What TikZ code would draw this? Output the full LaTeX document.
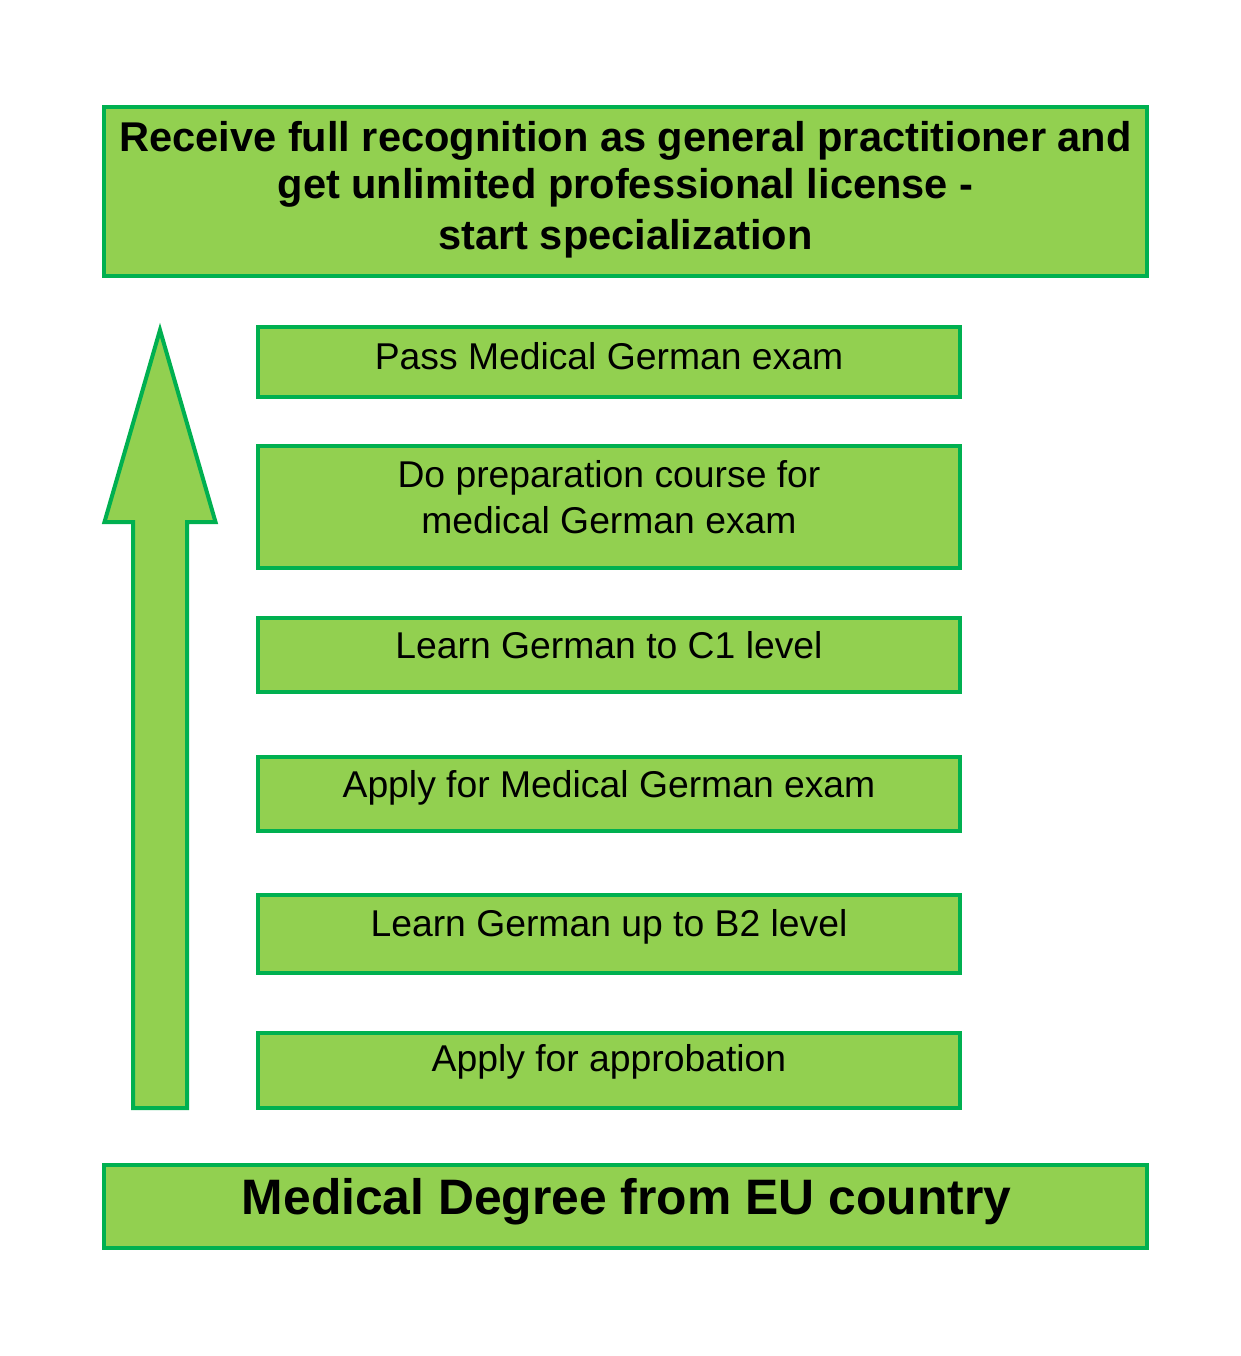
\documentclass[tikz,border=0pt]{standalone}
\usepackage{fontspec}
\setmainfont{Liberation Sans}
\definecolor{boxfill}{HTML}{92D050}
\definecolor{boxline}{HTML}{00B050}
\begin{document}
\begin{tikzpicture}[x=1pt,y=-1pt,
  box/.style={draw=boxline, fill=boxfill, line width=4pt, rectangle, inner sep=0pt, outer sep=0pt},
  stepbox/.style={box, minimum width=702pt},
  steptext/.style={anchor=base, align=center, inner sep=0pt, font=\fontsize{37.3}{46}\selectfont},
  bigtext/.style={anchor=base, align=center, inner sep=0pt, font=\fontsize{41.6}{46.5}\selectfont\bfseries},
  basetext/.style={anchor=base, inner sep=0pt, font=\fontsize{49.8}{60}\selectfont\bfseries}]
\useasboundingbox (0,0) rectangle (1240,1356);
\fill[white] (0,0) rectangle (1240,1356);
% top box
\node[box, minimum width=1043pt, minimum height=169pt] (top) at (625.5,191.5) {};
\node[bigtext] (toptext) at (625.5,250) {Receive full recognition as general practitioner and\\get unlimited professional license -\\[5pt]start specialization};
% steps
\node[stepbox, minimum height=70pt] (s6) at (609,362) {};
\node[steptext] (t6) at (s6.center |- 0,369) {Pass Medical German exam};
\node[stepbox, minimum height=122pt] (s5) at (609,507) {};
\node[steptext] (t5) at (s5.center |- 0,533) {Do preparation course for\\medical German exam};
\node[stepbox, minimum height=74pt] (s4) at (609,655) {};
\node[steptext] (t4) at (s4.center |- 0,658) {Learn German to C1 level};
\node[stepbox, minimum height=74pt] (s3) at (609,794) {};
\node[steptext] (t3) at (s3.center |- 0,797) {Apply for Medical German exam};
\node[stepbox, minimum height=78pt] (s2) at (609,934) {};
\node[steptext] (t2) at (s2.center |- 0,936) {Learn German up to B2 level};
\node[stepbox, minimum height=75pt] (s1) at (609,1070.5) {};
\node[steptext] (t1) at (s1.center |- 0,1071) {Apply for approbation};
% bottom box
\node[box, minimum width=1043pt, minimum height=83pt] (bottom) at (625.5,1206.5) {};
\node[basetext] (bottomtext) at (626.5,1214) {Medical Degree from EU country};
% big arrow
\coordinate (tip) at (160,330);
\draw[draw=boxline, fill=boxfill, line width=4pt, line join=miter]
  (tip) -- (215.5,522) -- (187,522) -- (187,1108) -- (133,1108) -- (133,522) -- (104.5,522) -- cycle;
\end{tikzpicture}
\end{document}
